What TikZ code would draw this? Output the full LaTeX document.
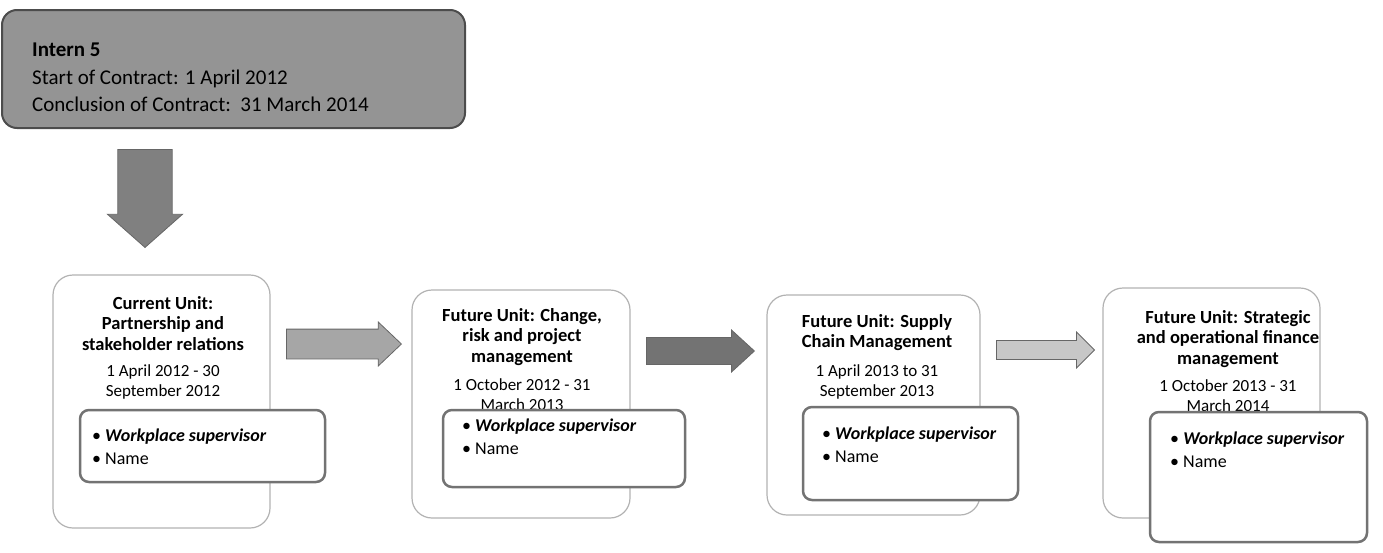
\documentclass[tikz,border=0pt]{standalone}
\usepackage{fontspec}
\setmainfont{Carlito}
\usetikzlibrary{shapes.arrows}

\begin{document}
\begin{tikzpicture}[x=1pt,y=-1pt,
	unitbox/.style={draw=black!30, line width=1.2pt, rounded corners=20pt},
	namebox/.style={draw=black!55, fill=white, line width=2.5pt, rounded corners=9pt},
	bigarrow/.style={single arrow, draw=black!60, line width=0.8pt, inner xsep=0pt, anchor=tip},
	unittitle/.style={align=center, inner sep=0pt, anchor=north, font=\fontsize{18.5}{20.5}\selectfont\bfseries},
	unitdate/.style={align=center, inner sep=0pt, anchor=north, font=\fontsize{17}{20}\selectfont},
	bullets/.style={align=left, inner sep=0pt, anchor=north west, font=\fontsize{18}{22.5}\selectfont}]
	\useasboundingbox (0,0) rectangle (1383,552);
	% intern header and arrow down
	\node[draw=black!70, fill=black!42, line width=2pt, rounded corners=15pt, minimum width=463pt, minimum height=118pt] (intern) at (233.5,69) {};
	\node[anchor=north west, align=left, inner sep=0pt, font=\fontsize{21}{27.5}\selectfont] (info) at (32,43) {\textbf{Intern 5}\\Start of Contract: 1 April 2012\\Conclusion of Contract:\ \ 31 March 2014};
	\node[bigarrow, fill=black!50, rotate=-90, inner ysep=18.5pt, minimum height=98pt, minimum width=75pt, single arrow tip angle=97] (down) at (145,248) {};
	% units
	\foreach \n/\cx/\cy/\w/\h in {u1/161.5/401.5/217/253, u2/521/404/218/228, u3/873.5/405/213/220, u4/1211.5/403/217/230}
		\node[unitbox, minimum width=\w pt, minimum height=\h pt] (\n) at (\cx,\cy) {};
	\node[unittitle] (t1) at (163,296) {Current Unit:\\Partnership and\\stakeholder relations};
	\node[unitdate] (d1) at (163,364) {1 April 2012 - 30\\September 2012};
	\node[unittitle] (t2) at (522,308) {Future Unit: Change,\\risk and project\\management};
	\node[unitdate] (d2) at (522,378) {1 October 2012 - 31\\March 2013};
	\node[unittitle] (t3) at (877,314) {Future Unit: Supply\\Chain Management};
	\node[unitdate] (d3) at (877,364) {1 April 2013 to 31\\September 2013};
	\node[unittitle] (t4) at (1228,310) {Future Unit: Strategic\\and operational finance\\management};
	\node[unitdate] (d4) at (1228,379) {1 October 2013 - 31\\March 2014};
	% supervisor boxes
	\foreach \n/\cx/\cy/\w/\h/\bx/\by in {i1/202.5/446/245/72/92/429, i2/564/448.5/242/77/462/419, i3/910.5/453.5/215/93/822/427, i4/1258.5/477/217/130/1170/432}{
		\node[namebox, minimum width=\w pt, minimum height=\h pt] (\n) at (\cx,\cy) {};
		\node[bullets] (\n-txt) at (\bx,\by) {\textbullet\ \textbf{\textit{Workplace supervisor}}\\\textbullet\ Name};
	}
	% arrows between units
	\node[bigarrow, fill=black!35, inner ysep=14.5pt, minimum height=115pt, minimum width=42pt, single arrow tip angle=87] (a1) at (402,344) {};
	\node[bigarrow, fill=black!55, inner ysep=12.5pt, minimum height=108pt, minimum width=42pt, single arrow tip angle=85] (a2) at (755,351) {};
	\node[bigarrow, fill=black!22, inner ysep=7.5pt, minimum height=98pt, minimum width=36pt, single arrow tip angle=90] (a3) at (1095,350) {};
\end{tikzpicture}
\end{document}
